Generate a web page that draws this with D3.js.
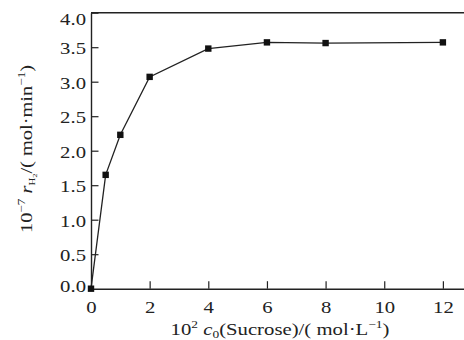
<!DOCTYPE html>
<html><head><meta charset="utf-8">
<script src="https://cdn.jsdelivr.net/npm/d3@7"></script>
<style>body{margin:0;background:#fff}svg{display:block}text{font-family:"Liberation Serif","Times New Roman",serif;fill:#222}</style>
</head><body>
<svg id="c" width="464" height="340"></svg>
<script>
const xValues = [0, 0.5, 1, 2, 4, 6, 8, 12];
const yValues = [0, 1.65, 2.23, 3.07, 3.48, 3.57, 3.56, 3.57];
const xTicks = [0, 2, 4, 6, 8, 10, 12];
const yTicks = [0, 0.5, 1.0, 1.5, 2.0, 2.5, 3.0, 3.5, 4.0];

const svg = d3.select("#c");
const x = d3.scaleLinear().domain([0, 12.72]).range([91, 464]);
const y = d3.scaleLinear().domain([0, 4]).range([288.7, 12.7]);
const col = "#222";
const FS = 17, SX = 1.22;
const FF = '"Liberation Serif","Times New Roman",serif';

// frame top
svg.append("line").attr("x1", x(0)).attr("x2", 464).attr("y1", y(4)).attr("y2", y(4))
  .attr("stroke", col).attr("stroke-width", 1.4);

const xa = svg.append("g").attr("transform", `translate(0,${y(0)})`)
  .call(d3.axisBottom(x).tickValues(xTicks).tickSizeInner(-7.5).tickSizeOuter(0).tickPadding(12).tickFormat(d3.format("d")));
const ya = svg.append("g").attr("transform", `translate(${x(0)},0)`)
  .call(d3.axisLeft(y).tickValues(yTicks).tickSizeInner(-7.5).tickSizeOuter(0).tickPadding(5).tickFormat(d3.format(".1f")));
[xa, ya].forEach(g => {
  g.attr("font-family", FF).attr("font-size", FS);
  g.select(".domain").attr("stroke", col).attr("stroke-width", 1.4);
  g.selectAll(".tick line").attr("stroke", col).attr("stroke-width", 1.2);
  g.selectAll("text").attr("font-size", FS).attr("fill", col).style("font-family", FF);
});
xa.selectAll(".tick text").attr("dy", "0.71em").attr("x", 0)
  .attr("transform", `scale(${SX},1)`);
ya.selectAll(".tick text").attr("x", -5 / SX)
  .attr("transform", d => `translate(0,${d === 4 ? 6.5 : (d === 0 ? -2.5 : 1)}) scale(${SX},1)`);
xa.selectAll(".tick").filter(d => d === 0).select("line").remove();
ya.selectAll(".tick").filter(d => d === 0).select("line").remove();

const pts = xValues.map((v, i) => [v, yValues[i]]);
svg.append("path").datum(pts)
  .attr("d", d3.line().x(d => x(d[0])).y(d => y(d[1])))
  .attr("fill", "none").attr("stroke", col).attr("stroke-width", 1.3);
svg.selectAll("rect.m").data(pts).enter().append("rect")
  .attr("x", d => x(d[0]) - 3.2).attr("y", d => y(d[1]) - 3.2)
  .attr("width", 6.4).attr("height", 6.4).attr("fill", "#111");

// x label
const xl = svg.append("g").attr("transform", `translate(280,335) scale(${SX},1)`)
  .append("text").attr("text-anchor", "middle").attr("font-size", FS);
xl.append("tspan").text("10");
xl.append("tspan").attr("dy", -7).attr("font-size", 11).text("2");
xl.append("tspan").attr("dy", 7).text(" ");
xl.append("tspan").attr("font-style", "italic").text("c");
xl.append("tspan").attr("dy", 3).attr("font-size", 11).text("0");
xl.append("tspan").attr("dy", -3).text("(Sucrose)/( mol·L");
xl.append("tspan").attr("dy", -7).attr("font-size", 11).text("−1");
xl.append("tspan").attr("dy", 7).text(")");

// y label
const yl = svg.append("g").attr("transform", `translate(32,149) rotate(-90) scale(1.2,1)`)
  .append("text").attr("text-anchor", "middle").attr("font-size", FS);
yl.append("tspan").text("10");
yl.append("tspan").attr("dy", -7).attr("font-size", 11).text("−7");
yl.append("tspan").attr("dy", 7).text(" ");
yl.append("tspan").attr("font-style", "italic").text("r");
yl.append("tspan").attr("dy", 3).attr("font-size", 9).text("H");
yl.append("tspan").attr("dy", 2).attr("font-size", 7).text("2");
yl.append("tspan").attr("dy", -5).text("/( mol·min");
yl.append("tspan").attr("dy", -7).attr("font-size", 11).text("−1");
yl.append("tspan").attr("dy", 7).text(")");
</script>
</body></html>
